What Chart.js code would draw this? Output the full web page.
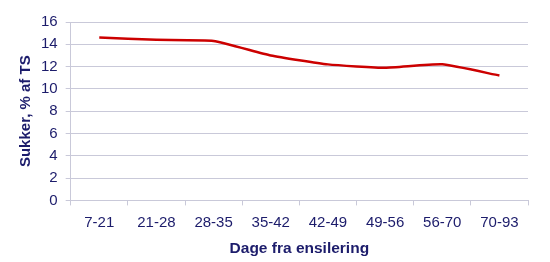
<!DOCTYPE html>
<html><head><meta charset="utf-8">
<script src="https://cdn.jsdelivr.net/npm/chart.js@4"></script>
<style>html,body{margin:0;padding:0;background:#fff}#w{width:550px;height:262px}</style>
</head><body><div id="w"><canvas id="c"></canvas></div>
<script>
const categories = ["7-21","21-28","28-35","35-42","42-49","49-56","56-70","70-93"];
const sukker = [14.6, 14.4, 14.3, 13.0, 12.2, 11.9, 12.2, 11.2];
const yTitle = "Sukker, % af TS";
const xTitle = "Dage fra ensilering";
const txt = "#1c1c6b";
const grid = "#c9c9d9";
new Chart(document.getElementById('c'), {
  type: 'line',
  data: { labels: categories, datasets: [{ data: sukker, borderColor: '#cc0000', borderWidth: 2.5, pointRadius: 0, tension: 0.15, fill: false }] },
  options: {
    responsive: true, maintainAspectRatio: false, animation: false,
    layout: { padding: { left: 18, right: 22, top: 22, bottom: 4 } },
    plugins: { legend: { display: false }, tooltip: { enabled: false } },
    scales: {
      x: {
        offset: true,
        grid: { offset: true, drawOnChartArea: false, color: grid, tickLength: 5 },
        border: { color: grid },
        ticks: { color: txt, font: { family: 'Liberation Sans', size: 15 }, padding: 8, maxRotation: 0 },
        title: { display: true, text: xTitle, color: txt, font: { family: 'Liberation Sans', size: 15.5, weight: 'bold' }, padding: { top: 0, bottom: 0 } }
      },
      y: {
        min: 0, max: 16,
        grid: { color: grid, tickLength: 5 },
        border: { color: grid },
        ticks: { stepSize: 2, color: txt, font: { family: 'Liberation Sans', size: 15 }, padding: 8 },
        title: { display: true, text: yTitle, color: txt, font: { family: 'Liberation Sans', size: 15, weight: 'bold', lineHeight: 1 }, padding: { top: 0, bottom: 0 } }
      }
    }
  }
});
</script></body></html>
